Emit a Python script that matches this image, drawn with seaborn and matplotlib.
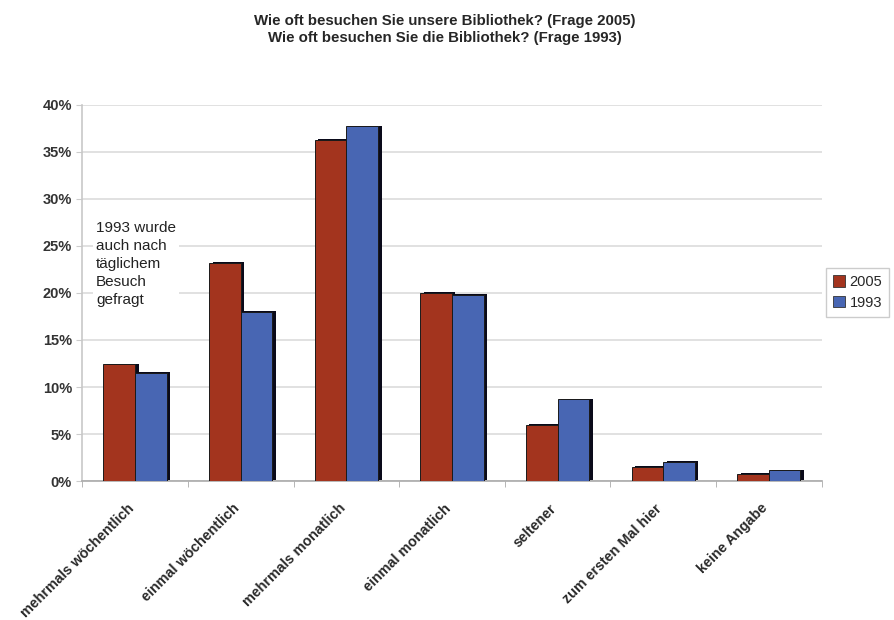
import pandas as pd
import matplotlib.pyplot as plt
import matplotlib.patheffects as pe
import matplotlib.transforms as mtransforms
import seaborn as sns
from matplotlib.ticker import PercentFormatter

# Werte (Prozent)
categories = ['mehrmals wöchentlich', 'einmal wöchentlich', 'mehrmals monatlich',
              'einmal monatlich', 'seltener', 'zum ersten Mal hier', 'keine Angabe']
values_2005 = [12.4, 23.2, 36.3, 20.0, 6.0, 1.5, 0.75]
values_1993 = [11.5, 18.0, 37.7, 19.8, 8.7, 2.05, 1.15]
years = ['2005', '1993']

df = pd.DataFrame({
    'Kategorie': categories * 2,
    'Jahr': [years[0]] * len(categories) + [years[1]] * len(categories),
    'Anteil': values_2005 + values_1993,
})

sns.set_style('white')
plt.rcParams['font.family'] = ['Liberation Sans', 'DejaVu Sans']

fig = plt.figure(figsize=(8.95, 6.2), dpi=100)
ax = fig.add_axes([0.092, 0.224, 0.826, 0.607])

palette = {'2005': '#A3341E', '1993': '#4866B3'}
sns.barplot(data=df, x='Kategorie', y='Anteil', hue='Jahr', hue_order=years,
            palette=palette, width=0.6, saturation=1, ax=ax, legend=False, zorder=3)

# dunkler Schatten wie im 3D-Look von Excel
for p in ax.patches:
    p.set_edgecolor('#1a1a1a')
    p.set_linewidth(0.7)
    p.set_path_effects([pe.SimplePatchShadow(offset=(2.5, 0.5), shadow_rgbFace='#0a0a1a', alpha=1),
                        pe.Normal()])

ax.set_ylim(0, 40)
ax.set_xlim(-0.5, len(categories) - 0.5)
ax.set_yticks(range(0, 41, 5))
ax.yaxis.set_major_formatter(PercentFormatter(decimals=0))
ax.yaxis.grid(True, color='#dcdcdc', linewidth=1.2, zorder=0)
ax.set_axisbelow(True)
ax.set_xlabel('')
ax.set_ylabel('')

for s in ['top', 'right']:
    ax.spines[s].set_visible(False)
ax.spines['left'].set_color('#c8c8c8')
ax.spines['left'].set_linewidth(1.2)
ax.spines['bottom'].set_color('#aaaaaa')
ax.spines['bottom'].set_linewidth(1.2)

ax.tick_params(axis='y', left=True, length=4, color='#cccccc', labelsize=10.5, labelcolor='#333333')
for t in ax.get_yticklabels():
    t.set_fontweight('bold')
ax.set_xticks(range(len(categories)))
ax.set_xticklabels(categories, rotation=45, ha='right', rotation_mode='anchor',
                   fontsize=10.3, fontweight='bold', color='#2a2a2a')
ax.tick_params(axis='x', bottom=False, pad=11)
shift = mtransforms.ScaledTranslation(-8 / 100, 0, fig.dpi_scale_trans)
for t in ax.get_xticklabels():
    t.set_transform(t.get_transform() + shift)
ax.set_xticks([i + 0.5 for i in range(-1, len(categories))], minor=True)
ax.tick_params(axis='x', which='minor', bottom=True, length=4, color='#aaaaaa')

ax.text(-0.37, 27.7, '1993 wurde\nauch nach\ntäglichem\nBesuch\ngefragt',
        fontsize=11, va='top', ha='left', linespacing=1.37, color='#222222',
        bbox=dict(facecolor='white', edgecolor='none', pad=2), zorder=4)

handles = [plt.Rectangle((0, 0), 1, 1, facecolor=palette[y], edgecolor='#333333', linewidth=0.6)
           for y in years]
fig.legend(handles, years, loc='upper left', bbox_to_anchor=(0.923, 0.568),
           borderaxespad=0, frameon=True, fancybox=False, edgecolor='#c0c0c0', fontsize=10.5,
           handlelength=0.8, handleheight=0.8, handletextpad=0.3, borderpad=0.5,
           labelspacing=0.45)

fig.text(0.497, 0.978, 'Wie oft besuchen Sie unsere Bibliothek? (Frage 2005)\n'
         'Wie oft besuchen Sie die Bibliothek? (Frage 1993)',
         ha='center', va='top', fontsize=10.8, fontweight='bold', linespacing=1.35)

fig.savefig('out.png', dpi=100)
